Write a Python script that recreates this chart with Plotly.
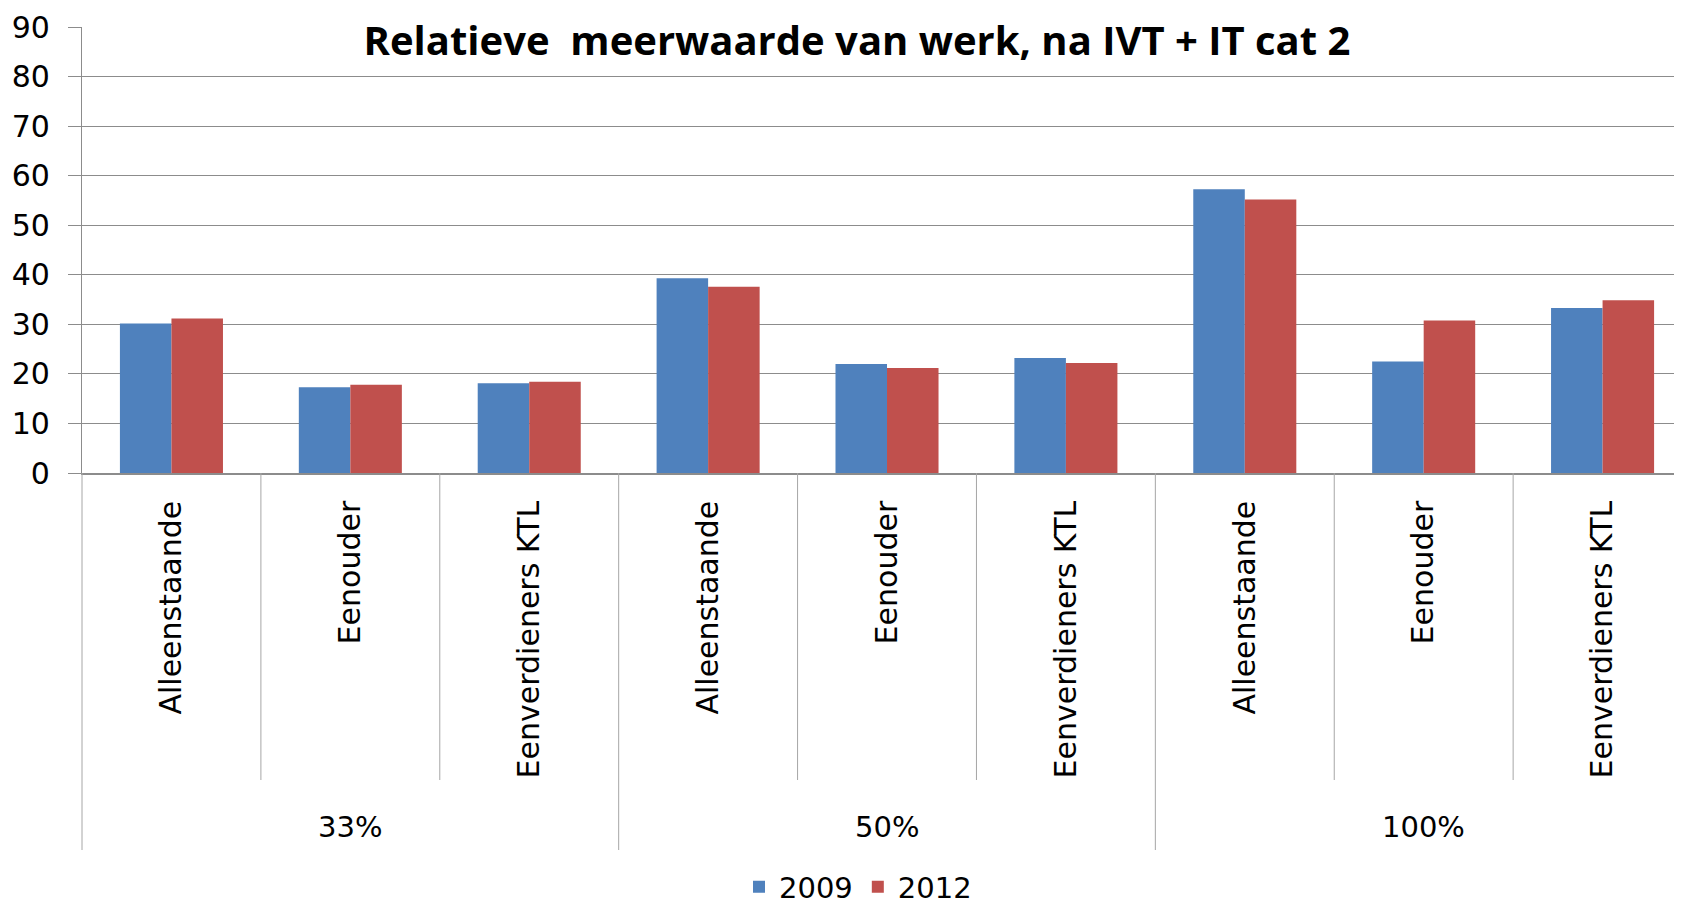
import plotly.graph_objects as go

groups = ["33%", "33%", "33%", "50%", "50%", "50%", "100%", "100%", "100%"]
categories = ["Alleenstaande", "Eenouder", "Eenverdieners KTL",
              "Alleenstaande", "Eenouder", "Eenverdieners KTL",
              "Alleenstaande", "Eenouder", "Eenverdieners KTL"]
values_2009 = [30.2, 17.3, 18.1, 39.3, 22.0, 23.2, 57.3, 22.5, 33.3]
values_2012 = [31.2, 17.8, 18.4, 37.6, 21.2, 22.2, 55.2, 30.8, 34.9]
series_names = ["2009", "2012"]
y_ticks = [0, 10, 20, 30, 40, 50, 60, 70, 80, 90]
title_text = "Relatieve  meerwaarde van werk, na IVT + IT cat 2"

BLUE = "#4F81BD"
RED = "#C0504D"
GRID = "#8c8c8c"
DIV = "#a6a6a6"

# page body has an 8px margin; figure is sized/offset to fill the window
OFF = 8
W, H = 1682 - OFF, 907 - OFF
ML, MR, MT, MB = 82 - OFF, 0, 27 - OFF, 434
PLOT_H = H - MT - MB
X_RANGE = [-0.5, 8.444]

xpos = list(range(len(categories)))

fig = go.Figure()
fig.add_trace(go.Bar(x=xpos, y=values_2009, name=series_names[0], marker_color=BLUE,
                     marker_line_width=0))
fig.add_trace(go.Bar(x=xpos, y=values_2012, name=series_names[1], marker_color=RED,
                     marker_line_width=0))


def xpaper(v):
    return (v - X_RANGE[0]) / (X_RANGE[1] - X_RANGE[0])


# category dividers below the axis
shapes = []
for i in range(len(categories)):
    b = i - 0.5
    if i == 0 or groups[i] != groups[i - 1]:
        length = 377
    else:
        length = 307
    xp = xpaper(b)
    shapes.append(dict(type="line", xref="paper", yref="paper", x0=xp, x1=xp,
                       y0=0, y1=-length / PLOT_H,
                       line=dict(color=DIV, width=1)))

# group labels
annotations = []
uniq = []
for g in groups:
    if g not in uniq:
        uniq.append(g)
for g in uniq:
    idx = [i for i, gg in enumerate(groups) if gg == g]
    center = sum(idx) / len(idx)
    annotations.append(dict(text=g, x=center, xref="x", y=0, yref="paper",
                            yshift=-354, yanchor="middle", showarrow=False,
                            font=dict(family="DejaVu Sans", size=29, color="#000000")))

fig.update_layout(
    width=W, height=H,
    margin=dict(l=ML, r=MR, t=MT, b=MB, autoexpand=False),
    paper_bgcolor="white", plot_bgcolor="white",
    barmode="group", bargap=0.424, bargroupgap=0,
    title=dict(text="<b>" + title_text + "</b>", x=(857 - OFF) / W, xanchor="center",
               y=1 - (41 - OFF) / H, yanchor="middle", yref="container",
               font=dict(family="Open Sans", size=40, color="#000000")),
    xaxis=dict(range=X_RANGE, tickmode="array", tickvals=xpos, ticktext=categories,
               tickangle=-90, ticks="", showgrid=False, showline=True, linecolor=GRID,
               linewidth=1.5, zeroline=False, ticklabelstandoff=14, automargin=False,
               tickfont=dict(family="DejaVu Sans", size=30, color="#000000")),
    yaxis=dict(range=[0, 90.05], tickmode="array", tickvals=y_ticks, showgrid=True,
               gridcolor=GRID, gridwidth=1.3, showline=True, linecolor=GRID, linewidth=1.3,
               ticks="outside", ticklen=13, tickcolor=GRID, tickwidth=1.3,
               zeroline=False, ticklabelstandoff=12, automargin=False,
               tickfont=dict(family="DejaVu Sans", size=30, color="#000000")),
    legend=dict(orientation="h", x=(858 - 82) / 1600, xanchor="center",
                y=1 - (887 - OFF) / H, yref="container", yanchor="middle",
                font=dict(family="DejaVu Sans", size=29, color="#000000")),
    shapes=shapes, annotations=annotations,
)

fig.write_html("out.html")
